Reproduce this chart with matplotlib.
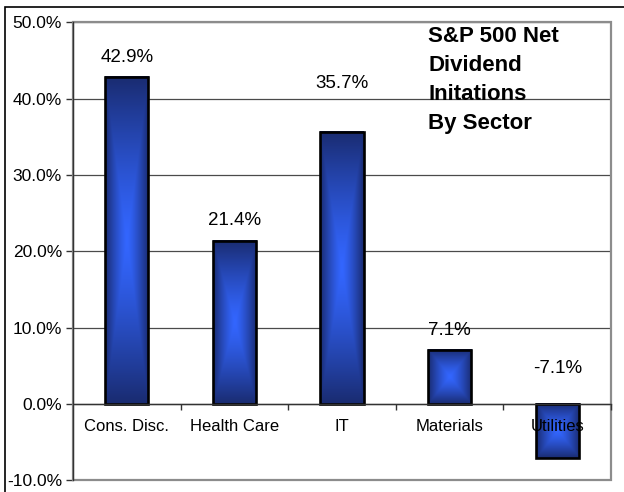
import numpy as np
import matplotlib
matplotlib.use("Agg")
import matplotlib.pyplot as plt
from matplotlib.patches import Rectangle

plt.rcParams['font.family'] = ['Liberation Sans', 'DejaVu Sans']

# data
sectors = ['Cons. Disc.', 'Health Care', 'IT', 'Materials', 'Utilities']
net_init = [42.9, 21.4, 35.7, 7.1, -7.1]
yticks = [-10, 0, 10, 20, 30, 40, 50]

# label offsets above the bar top (or above zero for negatives), points
lab_off = [10.8, 11.5, 31.5, 10.8, 22.3]

dark = np.array([0.10, 0.17, 0.44])
bright = np.array([0.20, 0.40, 1.00])

fig = plt.figure(figsize=(6.24, 4.92), dpi=100)
ax = fig.add_axes([73/624, 12/492, 538/624, 457.5/492])

x = np.arange(len(sectors))
bars = ax.bar(x, net_init, width=0.40, facecolor='none', edgecolor='black',
              linewidth=1.9, zorder=4)

# rectangular "from center" gradient inside each bar
for b in bars:
    x0, y0 = b.get_x(), b.get_y()
    w, h = b.get_width(), b.get_height()
    u = np.linspace(-1, 1, 80)
    v = np.linspace(-1, 1, 200)
    U, V = np.meshgrid(u, v)
    t = np.maximum(np.abs(U), np.abs(V)) ** 1.3
    img = bright[None, None, :] * (1 - t[..., None]) + dark[None, None, :] * t[..., None]
    ax.imshow(img, extent=[x0, x0 + w, min(y0, y0 + h), max(y0, y0 + h)],
              aspect='auto', zorder=3, interpolation='bilinear')

for i, v in enumerate(net_init):
    ax.annotate('%.1f%%' % v, xy=(i, max(v, 0)), xytext=(0, lab_off[i]),
                textcoords='offset points', ha='center', va='baseline',
                fontsize=13.5, zorder=6)

ax.set_xlim(-0.5, len(sectors) - 0.5)
ax.set_ylim(-10, 50)
ax.set_yticks(yticks)
ax.set_yticklabels(['%.1f%%' % t for t in yticks])
ax.tick_params(axis='y', direction='out', length=5, width=1, color='#333333',
               pad=3, labelsize=12.5)

ax.set_xticks(x)
ax.set_xticklabels(sectors)
ax.set_xticks(np.arange(len(sectors)) + 0.5, minor=True)
ax.tick_params(axis='x', which='major', length=0, pad=11, labelsize=12)
ax.tick_params(axis='x', which='minor', direction='out', length=4, width=1, color='#333333')

ax.yaxis.grid(True, color='#4a4a4a', linewidth=0.9)
ax.set_axisbelow(True)
ax.xaxis.set_zorder(7)

for s in ['top', 'right']:
    ax.spines[s].set_visible(False)
ax.spines['bottom'].set_position(('data', 0))
ax.spines['bottom'].set_color('#333333')
ax.spines['bottom'].set_linewidth(1.0)
ax.spines['bottom'].set_zorder(5)
ax.spines['left'].set_color('#333333')
ax.spines['left'].set_linewidth(1.0)

# gray plot-area frame
ax.add_patch(Rectangle((0, 0), 1, 1, transform=ax.transAxes, fill=False,
                       edgecolor='#8c8c8c', linewidth=1.6, zorder=1, clip_on=False))

ax.text(0.66, 0.993, 'S&P 500 Net\nDividend\nInitations\nBy Sector',
        transform=ax.transAxes, fontsize=16, fontweight='bold', ha='left',
        va='top', linespacing=1.5, zorder=8)

# outer chart border
fig.patches.append(Rectangle((5/624, -0.05), 1.1, 1 - 7/492 + 0.05,
                             transform=fig.transFigure, fill=False,
                             edgecolor='black', linewidth=1.2))

fig.savefig('out.png', dpi=100)
